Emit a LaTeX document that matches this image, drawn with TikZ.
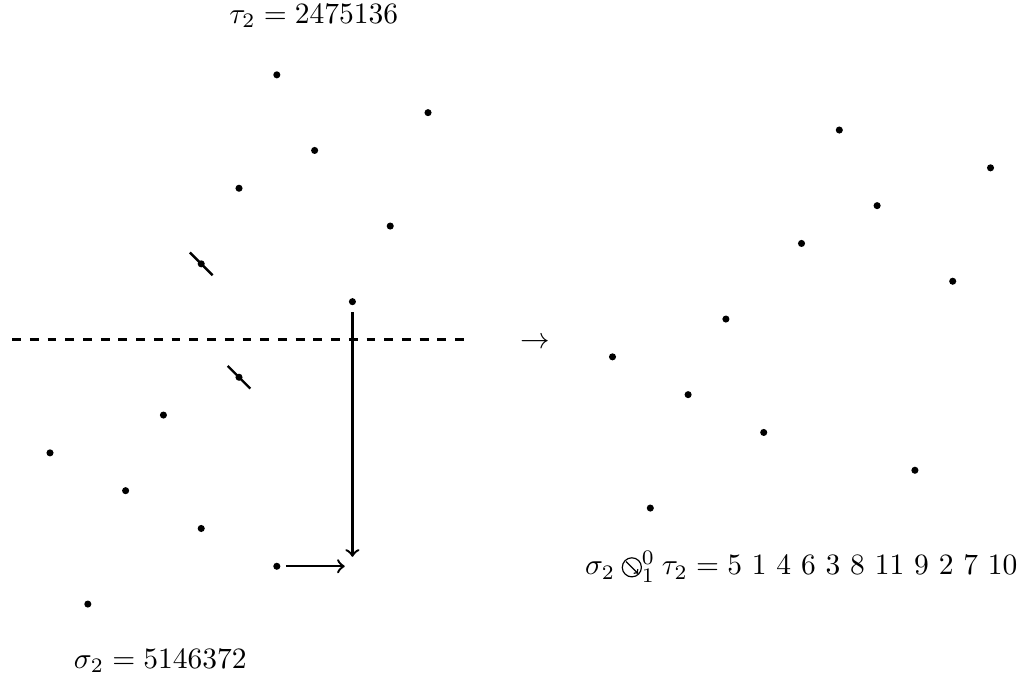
\documentclass[tikz,border=0pt]{standalone}
\usepackage{amsmath}
\usetikzlibrary{arrows.meta}

\newcommand{\osearrow}{\mathbin{\tikz[baseline=-0.6ex]{\draw[line width=0.4pt] (0,0) circle (0.75ex); \draw[line width=0.4pt,-{To[length=1.3pt,width=2.2pt]}] (-0.45ex,0.45ex) -- (0.5ex,-0.5ex);}}}

\tikzset{
	permdot/.style={circle, fill=black, inner sep=0pt, minimum size=2.4pt},
	cut/.style={thick},
}

\begin{document}
\begin{tikzpicture}[>=to, x=0.45cm, y=0.45cm, thick]
	\useasboundingbox (-0.323,-0.905) rectangle (26.66,16.98);
	% sigma below the cut, tau above it
	\foreach \v [count=\i] in {5,1,4,6,3,7,2} \node[permdot] (s\i) at (\i,\v) {};
	\foreach \v [count=\i] in {2,4,7,5,1,3,6} \node[permdot] (t\i) at (\i+4,\v+8) {};
	\draw[dashed] (0,8) -- (12,8);
	\draw[cut] (t1) ++(-0.3,0.3) -- ++(0.6,-0.6);
	\draw[cut] (s6) ++(-0.3,0.3) -- ++(0.6,-0.6);
	\coordinate (corner) at (9,2);
	\draw[->, shorten <=2pt, shorten >=3.2pt] (t5) -- (corner);
	\draw[->, shorten <=1.5pt, shorten >=2.6pt] (s7) -- (corner);
	\node (tlabel) at (7.98,16.55) {$\tau_2 = 2475136$};
	\node (slabel) at (3.92,-0.5) {$\sigma_2 = 5146372$};
	\node (maps) at (13.83,7.9) {$\to$};
	% the result
	\foreach \v [count=\i] in {5,1,4,6,3,8,11,9,2,7,10} \node[permdot] (r\i) at (\i+14.88,\v+2.54) {};
	\node[anchor=base east, inner sep=0pt] (rlabel) at (26.61,1.77) {$\sigma_2 \osearrow^0_1 \tau_2 = 5\ 1\ 4\ 6\ 3\ 8\ 11\ 9\ 2\ 7\ 10$};
\end{tikzpicture}
\end{document}
